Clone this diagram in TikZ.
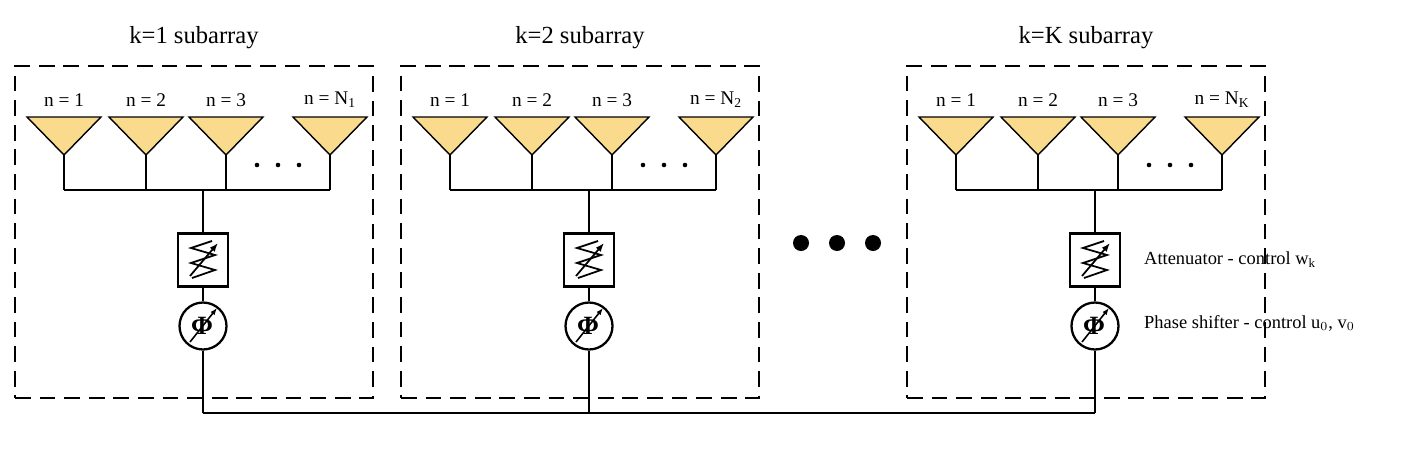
\documentclass[tikz,border=0pt]{standalone}
\usepackage{fontspec}
\setmainfont{Liberation Serif}
\usetikzlibrary{arrows.meta}
\begin{document}
\begin{tikzpicture}[x=0.02cm,y=-0.02cm,
  box/.style={draw,line width=1.3pt,dash pattern=on 9pt off 5pt},
  ant/.style={fill={rgb,255:red,250;green,218;blue,140},draw=black,line width=0.8pt},
  wire/.style={line width=0.8pt},
  lbl/.style={font=\fontsize{11}{12}\selectfont},
  ttl/.style={font=\fontsize{14}{16}\selectfont},
  side/.style={font=\fontsize{10.5}{12}\selectfont,anchor=west}]
\useasboundingbox (0,0) rectangle (1427,460);
\foreach \o/\k/\N in {0/1/N_1,386/2/N_2,892/K/N_K}{
  \begin{scope}[xshift=\o*0.02cm]
  \node[box,minimum width=358*0.02cm,minimum height=332*0.02cm,inner sep=0] (b\k) at (194,232) {};
  \node[ttl] (t\k) at (194,38) {k=\k\ subarray};
  \foreach \c/\n in {64/1,146/2,226/3,330/4}{
    \draw[ant] (\c-37,117) -- (\c+37,117) -- (\c,155) -- cycle;
    \draw[wire] (\c,155) -- (\c,190);
  }
  \node[lbl] at (64,100) {n = 1};
  \node[lbl] at (146,100) {n = 2};
  \node[lbl] at (226,100) {n = 3};
  \node[lbl] at (330,100) {n = $\mathrm{\N}$};
  \foreach \d in {257,278,299} \fill (\d,165) circle (2.3);
  \draw[wire] (64,190) -- (330,190);
  \node[draw,line width=1.3pt,minimum width=50*0.02cm,minimum height=53*0.02cm,inner sep=0] (att\k) at (203,260) {};
  \draw[line width=1pt] (192,278) -- (215,270) -- (191,263) -- (215,255) -- (191,248) -- (212,241);
  \draw[-{Latex[length=5pt]},line width=1pt] (190,276) -- (218,243);
  \node[draw,circle,line width=1.3pt,minimum size=47*0.02cm,inner sep=0] (ps\k) at (203,326) {};
  \node[font=\bfseries\fontsize{15}{15}\selectfont,inner sep=0] at (202,326) {Φ};
  \draw[-{Latex[length=4pt]},line width=0.9pt] (190,342) -- (217,308);
  \draw[wire] (203,190) -- (att\k.north);
  \draw[wire] (att\k.south) -- (ps\k.north);
  \coordinate (g\k) at (203,413);
  \draw[wire] (ps\k.south) -- (g\k);
  \end{scope}
}
\draw[wire] (g1) -- (gK);
\foreach \d in {801,837,873} \fill (\d,243) circle (8);
\node[side] (la) at (1138,260) {Attenuator - control w$_\mathrm{k}$};
\node[side] (lp) at (1138,323) {Phase shifter - control u$_0$, v$_0$};
\end{tikzpicture}
\end{document}
